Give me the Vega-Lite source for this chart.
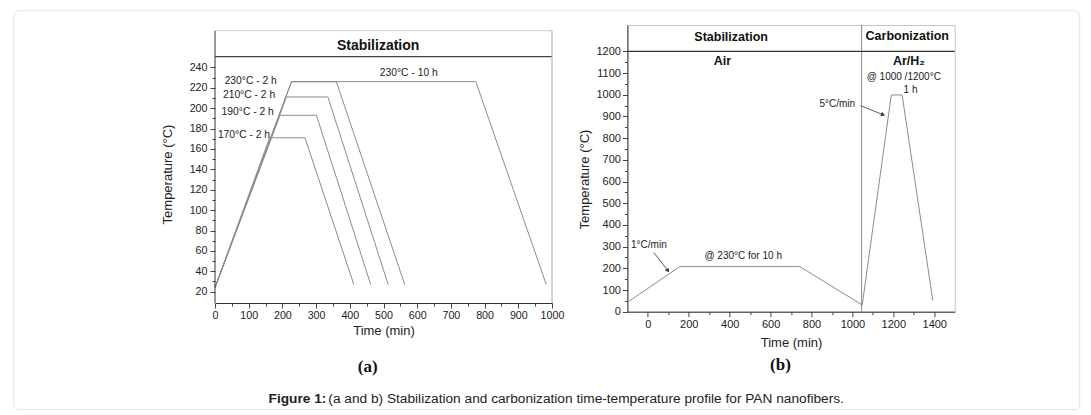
{
  "$schema": "https://vega.github.io/schema/vega-lite/v6.json",
  "background": "white",
  "padding": {"left": 13, "top": 10, "right": 5, "bottom": 3},
  "spacing": 75.4,
  "bounds": "flush",
  "datasets": {
    "profileA": [
      {"s": "230-10", "t": 0, "T": 24}, {"s": "230-10", "t": 227, "T": 226}, {"s": "230-10", "t": 774, "T": 226}, {"s": "230-10", "t": 983, "T": 27},
      {"s": "230-2", "t": 0, "T": 24}, {"s": "230-2", "t": 227, "T": 226}, {"s": "230-2", "t": 360, "T": 226}, {"s": "230-2", "t": 563, "T": 27},
      {"s": "210-2", "t": 0, "T": 24}, {"s": "210-2", "t": 212, "T": 211}, {"s": "210-2", "t": 335, "T": 211}, {"s": "210-2", "t": 514, "T": 27},
      {"s": "190-2", "t": 0, "T": 24}, {"s": "190-2", "t": 193, "T": 193}, {"s": "190-2", "t": 301, "T": 193}, {"s": "190-2", "t": 462, "T": 27},
      {"s": "170-2", "t": 0, "T": 24}, {"s": "170-2", "t": 162, "T": 171}, {"s": "170-2", "t": 267, "T": 171}, {"s": "170-2", "t": 412, "T": 27}
    ],
    "labelsA": [
      {"label": "230°C - 2 h", "t": 106, "T": 227},
      {"label": "210°C - 2 h", "t": 101, "T": 212.9},
      {"label": "190°C - 2 h", "t": 97, "T": 196.5},
      {"label": "170°C - 2 h", "t": 86, "T": 173.7},
      {"label": "230°C - 10 h", "t": 575, "T": 234.5}
    ],
    "profileB": [
      {"t": -100, "T": 43}, {"t": 156, "T": 208}, {"t": 743, "T": 208}, {"t": 1048, "T": 31},
      {"t": 1190, "T": 999}, {"t": 1243, "T": 999}, {"t": 1393, "T": 51}
    ],
    "labelsB": [
      {"label": "@ 1000 /1200°C", "t": 1251, "T": 1080},
      {"label": "1 h", "t": 1284, "T": 1022},
      {"label": "5°C/min", "t": 926, "T": 957.5},
      {"label": "1°C/min", "t": 5, "T": 308},
      {"label": "@ 230°C for 10 h", "t": 466, "T": 258}
    ],
    "headersB": [
      {"label": "Stabilization", "t": 407, "T": 1264.5},
      {"label": "Carbonization", "t": 1268, "T": 1272},
      {"label": "Air", "t": 364, "T": 1155},
      {"label": "Ar/H₂", "t": 1276, "T": 1155}
    ],
    "arrowsB": [
      {"t": 1040, "T": 950, "t2": 1150, "T2": 908},
      {"t": 29, "T": 273, "t2": 98, "T2": 189}
    ]
  },
  "hconcat": [
    {
      "width": 337,
      "height": 278,
      "view": {"stroke": null},
      "resolve": {"axis": {"x": "independent", "y": "independent"}},
      "layer": [
        {
          "data": {"values": [{}]},
          "mark": {"type": "rect", "fill": "white", "fillOpacity": 0, "stroke": "#e2e2e2", "strokeWidth": 1, "cornerRadius": 5},
          "encoding": {
            "x": {"datum": -597, "type": "quantitative", "axis": null},
            "x2": {"datum": 2566},
            "y": {"datum": 295.6, "type": "quantitative", "axis": null},
            "y2": {"datum": -95.7}
          }
        },
        {
          "data": {"name": "profileA"},
          "mark": {"type": "line", "color": "#8c8c8c", "strokeWidth": 1},
          "encoding": {
            "x": {"field": "t", "type": "quantitative",
              "scale": {"domain": [0, 1000], "nice": false, "zero": false},
              "axis": {"orient": "bottom", "values": [0, 100, 200, 300, 400, 500, 600, 700, 800, 900, 1000], "format": "d", "title": "Time (min)", "tickSize": 5, "labelPadding": 2, "titlePadding": 5, "labelFontSize": 10.7}},
            "y": {"field": "T", "type": "quantitative",
              "scale": {"domain": [8.9, 281.6], "nice": false, "zero": false},
              "axis": {"orient": "left", "values": [20, 40, 60, 80, 100, 120, 140, 160, 180, 200, 220, 240], "format": "d", "title": "Temperature (°C)", "domain": false, "tickSize": 5, "labelPadding": 3, "titlePadding": 15, "titleY": 149, "labelFontSize": 10.7}},
            "detail": {"field": "s"}
          }
        },
        {
          "data": {"values": [{}]},
          "mark": {"type": "rule", "color": "#333", "strokeWidth": 1},
          "encoding": {
            "x": {"datum": 0, "type": "quantitative", "axis": {"orient": "bottom", "values": [50, 150, 250, 350, 450, 550, 650, 750, 850, 950], "labels": false, "tickSize": 3, "domain": false, "title": null}},
            "y": {"datum": 8.9, "type": "quantitative", "axis": {"orient": "left", "values": [30, 50, 70, 90, 110, 130, 150, 170, 190, 210, 230], "labels": false, "tickSize": 3, "domain": false, "title": null}},
            "y2": {"datum": 276}
          }
        },
        {
          "data": {"values": [{}]},
          "mark": {"type": "rule", "color": "#444", "strokeWidth": 1.2},
          "encoding": {
            "x": {"datum": 0, "type": "quantitative", "axis": null},
            "x2": {"datum": 1000},
            "y": {"datum": 250.5, "type": "quantitative", "axis": null}
          }
        },
        {
          "data": {"values": [{}]},
          "mark": {"type": "rule", "color": "#cccccc", "strokeWidth": 1},
          "encoding": {
            "x": {"datum": 0, "type": "quantitative", "axis": null},
            "x2": {"datum": 1000},
            "y": {"datum": 276, "type": "quantitative", "axis": null}
          }
        },
        {
          "data": {"values": [{}]},
          "mark": {"type": "rule", "color": "#aaaaaa", "strokeWidth": 1},
          "encoding": {
            "x": {"datum": 1000, "type": "quantitative", "axis": null},
            "y": {"datum": 8.9, "type": "quantitative", "axis": null},
            "y2": {"datum": 276}
          }
        },
        {
          "data": {"name": "labelsA"},
          "mark": {"type": "text", "fontSize": 10.3, "color": "#222", "align": "center", "baseline": "middle"},
          "encoding": {
            "x": {"field": "t", "type": "quantitative", "axis": null},
            "y": {"field": "T", "type": "quantitative", "axis": null},
            "text": {"field": "label"}
          }
        },
        {
          "data": {"values": [{"label": "Stabilization"}]},
          "mark": {"type": "text", "fontSize": 14, "fontWeight": "bold", "color": "#111", "align": "center", "baseline": "middle"},
          "encoding": {
            "x": {"datum": 484, "type": "quantitative", "axis": null},
            "y": {"datum": 261.3, "type": "quantitative", "axis": null},
            "text": {"field": "label"}
          }
        },
        {
          "data": {"values": [{"label": "(a)"}]},
          "mark": {"type": "text", "font": "Liberation Serif", "fontSize": 17, "fontWeight": "bold", "color": "#111", "align": "center", "baseline": "middle"},
          "encoding": {
            "x": {"datum": 453, "type": "quantitative", "axis": null},
            "y": {"datum": -53.6, "type": "quantitative", "axis": null},
            "text": {"field": "label"}
          }
        }
      ]
    },
    {
      "width": 327.3,
      "height": 286.7,
      "view": {"stroke": "#c4c4c4", "strokeWidth": 1},
      "resolve": {"axis": {"x": "independent", "y": "independent"}},
      "layer": [
        {
          "data": {"name": "profileB"},
          "mark": {"type": "line", "color": "#8c8c8c", "strokeWidth": 1},
          "encoding": {
            "x": {"field": "t", "type": "quantitative",
              "scale": {"domain": [-100, 1500], "nice": false, "zero": false},
              "axis": {"orient": "bottom", "values": [0, 200, 400, 600, 800, 1000, 1200, 1400], "format": "d", "title": "Time (min)", "tickSize": 5, "labelPadding": 2, "titlePadding": 7}},
            "y": {"field": "T", "type": "quantitative",
              "scale": {"domain": [0, 1321.7], "nice": false, "zero": false},
              "axis": {"orient": "left", "values": [0, 100, 200, 300, 400, 500, 600, 700, 800, 900, 1000, 1100, 1200], "format": "d", "title": "Temperature (°C)", "tickSize": 5, "labelPadding": 2, "titlePadding": 4, "titleY": 154}}
          }
        },
        {
          "data": {"values": [{}]},
          "mark": {"type": "rule", "color": "#888888", "strokeWidth": 1},
          "encoding": {
            "x": {"datum": 1045, "type": "quantitative", "axis": {"orient": "bottom", "values": [100, 300, 500, 700, 900, 1100, 1300], "labels": false, "tickSize": 3, "domain": false, "title": null}},
            "y": {"datum": 0, "type": "quantitative", "axis": {"orient": "left", "values": [50, 150, 250, 350, 450, 550, 650, 750, 850, 950, 1050, 1150], "labels": false, "tickSize": 3, "domain": false, "title": null}},
            "y2": {"datum": 1321.7}
          }
        },
        {
          "data": {"values": [{}]},
          "mark": {"type": "rule", "color": "#333", "strokeWidth": 1.2},
          "encoding": {
            "x": {"datum": -100, "type": "quantitative", "axis": null},
            "x2": {"datum": 1500},
            "y": {"datum": 1200, "type": "quantitative", "axis": null}
          }
        },
        {
          "data": {"name": "labelsB"},
          "mark": {"type": "text", "fontSize": 10, "color": "#222", "align": "center", "baseline": "middle"},
          "encoding": {
            "x": {"field": "t", "type": "quantitative", "axis": null},
            "y": {"field": "T", "type": "quantitative", "axis": null},
            "text": {"field": "label"}
          }
        },
        {
          "data": {"name": "headersB"},
          "mark": {"type": "text", "fontSize": 12.5, "fontWeight": "bold", "color": "#111", "align": "center", "baseline": "middle"},
          "encoding": {
            "x": {"field": "t", "type": "quantitative", "axis": null},
            "y": {"field": "T", "type": "quantitative", "axis": null},
            "text": {"field": "label"}
          }
        },
        {
          "data": {"name": "arrowsB"},
          "mark": {"type": "rule", "color": "#333", "strokeWidth": 0.8},
          "encoding": {
            "x": {"field": "t", "type": "quantitative", "axis": null},
            "y": {"field": "T", "type": "quantitative", "axis": null},
            "x2": {"field": "t2"},
            "y2": {"field": "T2"}
          }
        },
        {
          "data": {"values": [{}]},
          "mark": {"type": "point", "shape": "triangle-right", "filled": true, "color": "#333", "opacity": 1, "size": 22, "angle": 21.6},
          "encoding": {
            "x": {"datum": 1150, "type": "quantitative", "axis": null},
            "y": {"datum": 908, "type": "quantitative", "axis": null}
          }
        },
        {
          "data": {"values": [{}]},
          "mark": {"type": "point", "shape": "triangle-right", "filled": true, "color": "#333", "opacity": 1, "size": 22, "angle": 52.6},
          "encoding": {
            "x": {"datum": 98, "type": "quantitative", "axis": null},
            "y": {"datum": 189, "type": "quantitative", "axis": null}
          }
        },
        {
          "data": {"values": [{"label": "(b)"}]},
          "mark": {"type": "text", "font": "Liberation Serif", "fontSize": 17, "fontWeight": "bold", "color": "#111", "align": "center", "baseline": "middle"},
          "encoding": {
            "x": {"datum": 648, "type": "quantitative", "axis": null},
            "y": {"datum": -244, "type": "quantitative", "axis": null},
            "text": {"field": "label"}
          }
        },
        {
          "data": {"values": [{"label": "Figure 1:"}]},
          "mark": {"type": "text", "fontSize": 13.7, "fontWeight": "bold", "color": "#222", "align": "left", "baseline": "middle"},
          "encoding": {
            "x": {"datum": -1854, "type": "quantitative", "axis": null},
            "y": {"datum": -401, "type": "quantitative", "axis": null},
            "text": {"field": "label"}
          }
        },
        {
          "data": {"values": [{"label": "(a and b) Stabilization and carbonization time-temperature profile for PAN nanofibers."}]},
          "mark": {"type": "text", "fontSize": 13.7, "color": "#222", "align": "left", "baseline": "middle"},
          "encoding": {
            "x": {"datum": -1562, "type": "quantitative", "axis": null},
            "y": {"datum": -401, "type": "quantitative", "axis": null},
            "text": {"field": "label"}
          }
        }
      ]
    }
  ],
  "config": {
    "font": "Liberation Sans",
    "view": {"stroke": null},
    "axis": {
      "labelFont": "Liberation Sans",
      "titleFont": "Liberation Sans",
      "labelFontSize": 11,
      "titleFontSize": 13,
      "titleFontWeight": "normal",
      "labelColor": "#222",
      "titleColor": "#222",
      "tickColor": "#444",
      "domainColor": "#333",
      "grid": false,
      "labelFlush": false,
      "labelOverlap": false
    }
  }
}
